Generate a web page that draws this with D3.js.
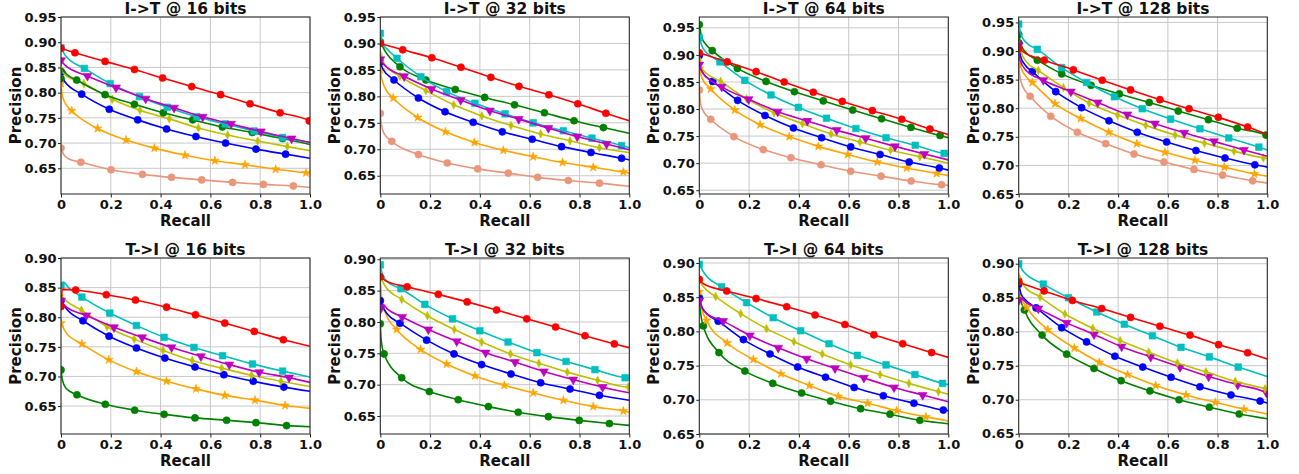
<!DOCTYPE html>
<html><head><meta charset="utf-8">
<script src="https://cdn.jsdelivr.net/npm/d3@7"></script>
<style>body{margin:0;background:#fff} text{font-family:"DejaVu Sans",sans-serif;font-weight:bold;fill:#111}</style>
</head><body><svg id="c" width="1299" height="474"></svg>
<script>
// ---------- data ----------
const titles = ["I->T @ 16 bits","I->T @ 32 bits","I->T @ 64 bits","I->T @ 128 bits",
                "T->I @ 16 bits","T->I @ 32 bits","T->I @ 64 bits","T->I @ 128 bits"];
const xTicks = [0, 0.2, 0.4, 0.6, 0.8, 1.0];
const yTicksTop = [0.65, 0.70, 0.75, 0.80, 0.85, 0.90, 0.95];
const yTicksBottom = [0.65, 0.70, 0.75, 0.80, 0.85, 0.90];
const yDomains = [[0.599,0.95],[0.6155,0.95],[0.643,0.970],[0.65,0.9595],
                  [0.6028,0.90],[0.6213,0.902],[0.65,0.9073],[0.6496,0.9084]];
// points: [recall, precision] (marker) or [recall, precision, 0] (line only)
const it16 = {
  salmon:[[0,.690],[.01,.678,0],[.03,.669,0],[.080,.662],[.201,.647],[.327,.638],[.444,.632],[.565,.627],[.689,.622],[.813,.618],[.933,.615],[1,.612,0]],
  orange:[[0,.818],[.005,.795,0],[.015,.781,0],[.043,.764],[.147,.729],[.261,.706],[.375,.690],[.498,.676],[.618,.665],[.739,.657],[.862,.648],[.984,.641],[1,.640,0]],
  blue:[[0,.841],[.015,.822,0],[.083,.797],[.194,.767],[.308,.746],[.424,.728],[.542,.713],[.661,.700],[.783,.688],[.902,.678],[1,.670,0]],
  yellow:[[0,.845],[.015,.836,0],[.092,.818],[.206,.787],[.317,.765],[.435,.748],[.552,.730],[.669,.716],[.790,.704],[.909,.693],[1,.685,0]],
  green:[[0,.828],[.005,.848,0],[.02,.838,0],[.063,.825],[.177,.796],[.295,.777],[.411,.760],[.529,.746],[.648,.732],[.768,.721],[.890,.709],[1,.697,0]],
  cyan:[[0,.889],[.02,.872,0],[.094,.848],[.197,.818],[.315,.792],[.427,.771],[.545,.752],[.66,.738],[.775,.724],[.89,.711],[1,.701,0]],
  magenta:[[0,.864],[.015,.855,0],[.106,.833],[.221,.810],[.340,.788],[.454,.770],[.569,.752],[.683,.738],[.803,.723],[.926,.709],[1,.701,0]],
  red:[[0,.888],[.056,.879],[.177,.862],[.295,.846],[.408,.829],[.525,.812],[.641,.796],[.759,.778],[.880,.760],[.997,.744],[1,.743,0]]
};
const it32 = {
  salmon:[[0,.768],[.005,.745,0],[.015,.73,0],[.046,.715],[.153,.690],[.269,.674],[.391,.663],[.514,.655],[.632,.647],[.755,.641],[.880,.636],[1,.630,0]],
  orange:[[0,.850],[.005,.835,0],[.02,.815,0],[.052,.797],[.150,.760],[.262,.733],[.378,.713],[.494,.698],[.614,.686],[.732,.675],[.855,.666],[.976,.657],[1,.655,0]],
  blue:[[0,.865],[.01,.852,0],[.055,.831],[.153,.797],[.260,.771],[.373,.751],[.490,.733],[.610,.719],[.728,.705],[.846,.694],[.969,.683],[1,.680,0]],
  yellow:[[0,.878],[.015,.862,0],[.079,.838],[.183,.811],[.295,.784],[.408,.763],[.525,.745],[.644,.729],[.762,.716],[.880,.703],[1,.694,0]],
  green:[[0,.903],[.02,.885,0],[.079,.856],[.183,.831],[.301,.813],[.419,.798],[.539,.784],[.659,.769],[.778,.754],[.896,.741],[1,.730,0]],
  cyan:[[0,.919],[.01,.900,0],[.03,.888,0],[.067,.872],[.163,.837],[.266,.809],[.380,.787],[.501,.767],[.614,.750],[.735,.735],[.850,.721],[.969,.707],[1,.703,0]],
  magenta:[[0,.870],[.015,.860,0],[.096,.838],[.206,.814],[.323,.793],[.440,.773],[.556,.757],[.675,.740],[.791,.724],[.909,.710],[1,.699,0]],
  red:[[0,.900],[.090,.888],[.207,.873],[.324,.855],[.444,.836],[.557,.819],[.677,.803],[.793,.786],[.906,.768],[1,.754,0]]
};
const it64 = {
  salmon:[[0,.835],[.005,.81,0],[.015,.797,0],[.046,.781],[.139,.749],[.257,.725],[.368,.710],[.489,.697],[.608,.685],[.730,.676],[.851,.667],[.973,.660],[1,.659,0]],
  orange:[[0,.875],[.01,.858,0],[.046,.837],[.143,.798],[.244,.771],[.361,.749],[.478,.731],[.596,.716],[.715,.702],[.833,.691],[.953,.681],[1,.677,0]],
  blue:[[0,.899],[.003,.880,0],[.015,.866,0],[.054,.851],[.154,.816],[.264,.788],[.378,.765],[.491,.747],[.608,.730],[.726,.716],[.843,.702],[.964,.691],[1,.687,0]],
  yellow:[[0,.890],[.015,.872,0],[.086,.851],[.190,.819],[.300,.793],[.414,.773],[.529,.754],[.645,.739],[.768,.724],[.886,.712],[1,.700,0]],
  green:[[0,.956],[.01,.932,0],[.025,.920,0],[.052,.908],[.153,.875],[.268,.851],[.382,.832],[.498,.815],[.616,.798],[.732,.782],[.850,.766],[.967,.751],[1,.747,0]],
  cyan:[[0,.932],[.015,.912,0],[.083,.887],[.183,.853],[.288,.826],[.398,.803],[.511,.783],[.629,.764],[.750,.747],[.867,.733],[.983,.718],[1,.717,0]],
  magenta:[[0,.882],[.015,.866,0],[.090,.841],[.198,.818],[.315,.795],[.434,.778],[.552,.761],[.668,.746],[.786,.731],[.904,.717],[1,.706,0]],
  red:[[0,.904],[.112,.887],[.228,.869],[.341,.850],[.458,.831],[.574,.814],[.695,.797],[.813,.781],[.926,.763],[1,.753,0]]
};
const it128 = {
  salmon:[[0,.878],[.005,.855,0],[.02,.835,0],[.046,.821],[.129,.786],[.236,.758],[.350,.738],[.464,.720],[.584,.706],[.705,.693],[.820,.683],[.941,.673],[1,.669,0]],
  orange:[[0,.896],[.008,.873,0],[.025,.858,0],[.055,.845],[.146,.808],[.249,.782],[.362,.758],[.475,.738],[.588,.723],[.709,.709],[.827,.697],[.948,.685],[1,.681,0]],
  blue:[[0,.914],[.008,.890,0],[.025,.876,0],[.055,.864],[.149,.829],[.253,.801],[.363,.778],[.477,.758],[.595,.741],[.713,.726],[.830,.713],[.950,.701],[1,.697,0]],
  yellow:[[0,.917],[.01,.898,0],[.03,.882,0],[.079,.866],[.180,.836],[.283,.809],[.398,.788],[.511,.770],[.629,.753],[.747,.739],[.866,.725],[.984,.713],[1,.712,0]],
  green:[[0,.929],[.01,.910,0],[.03,.897,0],[.075,.884],[.173,.860],[.291,.840],[.405,.825],[.525,.810],[.642,.795],[.763,.780],[.879,.765],[.995,.753],[1,.752,0]],
  cyan:[[0,.947],[.01,.928,0],[.03,.915,0],[.075,.903],[.173,.871],[.273,.845],[.385,.820],[.497,.799],[.611,.781],[.729,.764],[.845,.748],[.966,.732],[1,.727,0]],
  magenta:[[0,.910],[.005,.885,0],[.03,.866,0],[.099,.849],[.210,.829],[.318,.810],[.437,.789],[.548,.773],[.666,.757],[.786,.742],[.906,.727],[1,.716,0]],
  red:[[0,.905],[.02,.898,0],[.103,.884],[.220,.867],[.336,.849],[.450,.832],[.568,.815],[.685,.799],[.803,.784],[.921,.767],[1,.754,0]]
};
const ti16 = {
  green:[[0,.711],[.005,.695,0],[.02,.680,0],[.064,.669],[.178,.653],[.296,.643],[.414,.636],[.538,.630],[.665,.626],[.783,.622],[.906,.617],[1,.615,0]],
  orange:[[0,.790],[.02,.774,0],[.084,.755],[.192,.728],[.303,.708],[.424,.692],[.542,.679],[.658,.668],[.779,.660],[.900,.651],[1,.646,0]],
  blue:[[0,.828],[.02,.815,0],[.088,.794],[.193,.768],[.303,.748],[.417,.731],[.538,.716],[.654,.703],[.772,.692],[.895,.682],[1,.675,0]],
  yellow:[[0,.837],[.02,.828,0],[.082,.812],[.185,.784],[.294,.763],[.410,.744],[.527,.727],[.645,.714],[.765,.702],[.883,.692],[1,.683,0]],
  magenta:[[0,.828],[.02,.818,0],[.102,.803],[.213,.783],[.326,.766],[.444,.749],[.562,.734],[.676,.720],[.796,.707],[.916,.698],[1,.690,0]],
  cyan:[[0,.854],[.01,.859,0],[.03,.85,0],[.084,.834],[.196,.807],[.303,.786],[.414,.766],[.534,.749],[.649,.735],[.769,.721],[.890,.709],[1,.699,0]],
  red:[[0,.818],[.005,.847,0],[.059,.846],[.182,.838],[.299,.829],[.424,.817],[.540,.804],[.658,.790],[.776,.776],[.893,.762],[1,.751,0]]
};
const ti32 = {
  green:[[0,.797],[.004,.770,0],[.015,.749],[.086,.711],[.197,.689],[.313,.676],[.434,.665],[.554,.656],[.675,.649],[.799,.643],[.920,.638],[1,.635,0]],
  orange:[[0,.870],[.005,.84,0],[.02,.815,0],[.066,.788],[.162,.756],[.266,.733],[.380,.714],[.498,.699],[.614,.687],[.735,.675],[.855,.665],[.976,.658],[1,.656,0]],
  blue:[[0,.834],[.01,.824,0],[.03,.812,0],[.079,.798],[.186,.771],[.296,.749],[.407,.732],[.525,.717],[.644,.703],[.762,.693],[.880,.683],[1,.675,0]],
  magenta:[[0,.820],[.01,.828,0],[.03,.820,0],[.088,.808],[.193,.788],[.307,.769],[.423,.751],[.541,.736],[.657,.721],[.775,.708],[.893,.696],[1,.687,0]],
  yellow:[[0,.872],[.02,.857,0],[.086,.836],[.189,.810],[.297,.788],[.407,.768],[.523,.749],[.637,.734],[.751,.720],[.873,.707],[.996,.696],[1,.696,0]],
  cyan:[[0,.891],[.01,.874,0],[.03,.864,0],[.083,.853],[.179,.828],[.290,.805],[.400,.786],[.513,.768],[.629,.751],[.746,.737],[.862,.724],[.983,.711],[1,.710,0]],
  red:[[0,.872],[.02,.866,0],[.108,.856],[.233,.844],[.349,.832],[.467,.819],[.588,.805],[.704,.792],[.822,.778],[.940,.765],[1,.759,0]]
};
const ti64 = {
  green:[[0,.850],[.005,.828,0],[.016,.808],[.079,.769],[.183,.742],[.295,.724],[.411,.710],[.527,.698],[.648,.687],[.766,.679],[.886,.670],[1,.665,0]],
  orange:[[0,.858],[.008,.836,0],[.029,.816],[.112,.783],[.217,.759],[.328,.738],[.442,.721],[.558,.705],[.676,.695],[.793,.684],[.910,.675],[1,.669,0]],
  blue:[[0,.848],[.01,.836,0],[.03,.826,0],[.076,.815],[.177,.788],[.284,.767],[.395,.748],[.507,.733],[.622,.718],[.739,.706],[.862,.695],[.980,.685],[1,.684,0]],
  magenta:[[0,.845],[.01,.835,0],[.03,.826,0],[.096,.815],[.203,.794],[.317,.776],[.431,.760],[.545,.746],[.661,.732],[.782,.718],[.897,.707],[1,.697,0]],
  yellow:[[0,.875],[.015,.866,0],[.066,.851],[.166,.826],[.270,.804],[.380,.785],[.494,.767],[.608,.751],[.726,.737],[.842,.724],[.960,.712],[1,.708,0]],
  cyan:[[0,.898],[.02,.885,0],[.090,.865],[.190,.842],[.297,.820],[.407,.801],[.521,.782],[.635,.765],[.750,.751],[.866,.737],[.977,.724],[1,.722,0]],
  red:[[0,.876],[.015,.870,0],[.110,.859],[.228,.848],[.351,.836],[.465,.824],[.585,.810],[.701,.795],[.817,.782],[.933,.769],[1,.762,0]]
};
const ti128 = {
  green:[[0,.875],[.006,.850,0],[.023,.832],[.094,.795],[.193,.767],[.303,.746],[.412,.728],[.528,.713],[.645,.700],[.767,.689],[.887,.679],[1,.672,0]],
  orange:[[0,.870],[.008,.852,0],[.032,.836],[.117,.803],[.224,.776],[.324,.755],[.438,.737],[.551,.721],[.673,.707],[.791,.696],[.906,.686],[1,.679,0]],
  blue:[[0,.870],[.01,.855,0],[.03,.846,0],[.070,.835],[.173,.806],[.273,.785],[.387,.764],[.499,.748],[.613,.733],[.729,.719],[.854,.707],[.971,.698],[1,.695,0]],
  magenta:[[0,.846],[.005,.85,0],[.03,.843,0],[.079,.834],[.193,.813],[.303,.796],[.414,.778],[.531,.763],[.649,.748],[.764,.734],[.881,.722],[.997,.710],[1,.709,0]],
  yellow:[[0,.880],[.02,.868,0],[.086,.851],[.186,.826],[.298,.805],[.408,.787],[.523,.770],[.638,.754],[.753,.741],[.871,.727],[.991,.716],[1,.715,0]],
  cyan:[[0,.900],[.02,.888,0],[.099,.870],[.200,.850],[.314,.829],[.425,.811],[.538,.794],[.653,.777],[.767,.763],[.883,.748],[1,.734,0]],
  red:[[0,.873],[.02,.870,0],[.102,.860],[.216,.846],[.334,.834],[.450,.821],[.568,.808],[.689,.795],[.804,.781],[.921,.769],[1,.760,0]]
};
const panels = [it16, it32, it64, it128, ti16, ti32, ti64, ti128];

// ---------- styles ----------
const styles = {
  red:{color:"#ff0000", shape:"circle"},
  cyan:{color:"#00bfbf", shape:"square"},
  magenta:{color:"#bf00bf", shape:"tri"},
  green:{color:"#008000", shape:"circle"},
  yellow:{color:"#bfbf00", shape:"diamond"},
  blue:{color:"#0000ff", shape:"circle"},
  orange:{color:"#ffa500", shape:"star"},
  salmon:{color:"#e9967a", shape:"circle"}
};
const colX = [[61,310],[380.3,629.3],[699.3,948.3],[1018.7,1267.3]];
const rowY = [[17,194],[258,434]];

const svg = d3.select("#c");
const defs = svg.append("defs");

function markerPath(shape){
  switch(shape){
    case "circle": return d3.symbol(d3.symbolCircle, 40)();
    case "square": return d3.symbol(d3.symbolSquare, 44)();
    case "tri": return d3.symbol(d3.symbolTriangle, 34)();
    case "star": return d3.symbol(d3.symbolStar, 24)();
    case "diamond": return d3.symbol(d3.symbolDiamond, 24)();
  }
}

panels.forEach((pd, i) => {
  const r = Math.floor(i/4), c = i%4;
  const [x0,x1] = colX[c], [y0,y1] = rowY[r];
  const x = d3.scaleLinear().domain([0,1]).range([x0,x1]);
  const y = d3.scaleLinear().domain(yDomains[i]).range([y1,y0]);
  const yt = (r===0 ? yTicksTop : yTicksBottom).filter(v => v >= yDomains[i][0]-1e-9 && v <= yDomains[i][1]+1e-9);
  const g = svg.append("g");

  // grid
  g.append("g").selectAll("line").data(xTicks).join("line")
    .attr("x1", d=>x(d)).attr("x2", d=>x(d)).attr("y1", y0).attr("y2", y1)
    .attr("stroke", "#c8c8c8").attr("stroke-width", 1);
  g.append("g").selectAll("line").data(yt).join("line")
    .attr("x1", x0).attr("x2", x1).attr("y1", d=>y(d)).attr("y2", d=>y(d))
    .attr("stroke", "#c8c8c8").attr("stroke-width", 1);

  // clip
  const cid = "clip"+i;
  defs.append("clipPath").attr("id", cid).append("rect")
    .attr("x", x0).attr("y", y0).attr("width", x1-x0).attr("height", y1-y0);
  const plot = g.append("g").attr("clip-path", `url(#${cid})`);
  const line = d3.line().x(d=>x(d[0])).y(d=>y(d[1])).curve(d3.curveMonotoneX);
  Object.keys(pd).forEach(name => {
    const st = styles[name], pts = pd[name];
    plot.append("path").attr("d", line(pts)).attr("fill","none")
      .attr("stroke", st.color).attr("stroke-width", 1.6);
    const mp = markerPath(st.shape);
    plot.append("g").selectAll("path").data(pts.filter(p => p.length === 2)).join("path")
      .attr("d", mp)
      .attr("transform", d => {
        let t = `translate(${x(d[0])},${y(d[1])})`;
        if (st.shape === "tri") t += " rotate(180)";
        if (st.shape === "diamond") t += " scale(0.85,0.95)";
        return t;
      })
      .attr("fill", st.color).attr("stroke", st.color).attr("stroke-width", 0.6);
  });

  // axes
  const ax = g.append("g").attr("transform", `translate(0,${y1})`)
    .call(d3.axisBottom(x).tickValues(xTicks).tickSize(3.5).tickPadding(2.3)
      .tickFormat(d => d === 0 ? "0" : d3.format(".1f")(d)));
  const ay = g.append("g").attr("transform", `translate(${x0},0)`)
    .call(d3.axisLeft(y).tickValues(yt).tickSize(3).tickPadding(1.5)
      .tickFormat(d3.format(".2f")));
  [ax, ay].forEach(a => {
    a.select(".domain").remove();
    a.selectAll(".tick line").attr("stroke", "#222").attr("stroke-width", 1);
    a.selectAll("text").attr("font-size", 13).attr("fill", "#111")
      .style("font-family", "'DejaVu Sans'").style("font-weight", "bold");
  });
  // spines
  g.append("rect").attr("x", x0).attr("y", y0).attr("width", x1-x0).attr("height", y1-y0)
    .attr("fill", "none").attr("stroke", "#222").attr("stroke-width", 1);

  // labels
  g.append("text").attr("x", (x0+x1)/2).attr("y", y0 - 3.2).attr("text-anchor", "middle")
    .attr("font-size", 15.5).text(titles[i]);
  g.append("text").attr("x", (x0+x1)/2).attr("y", y1 + 32.3).attr("text-anchor", "middle")
    .attr("font-size", 15).text("Recall");
  g.append("text").attr("transform", `translate(${x0-40},${(y0+y1)/2}) rotate(-90)`)
    .attr("text-anchor", "middle").attr("font-size", 15).text("Precision");
});
</script></body></html>
